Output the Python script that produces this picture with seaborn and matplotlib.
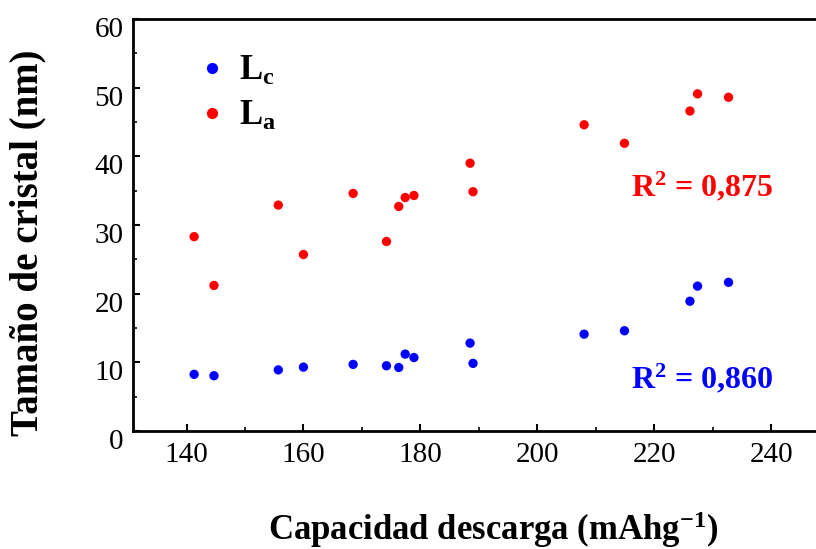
import matplotlib
matplotlib.use("Agg")
import matplotlib.pyplot as plt
from matplotlib.transforms import ScaledTranslation
from matplotlib.ticker import MultipleLocator
import seaborn as sns
import pandas as pd

# ---- data ----
capacity = [141.3, 144.7, 155.7, 160.0, 168.5, 174.2, 176.3, 177.4, 178.9,
            188.5, 189.0, 208.0, 214.9, 226.1, 227.4, 232.7]
lc_values = [8.25, 8.05, 8.9, 9.3, 9.7, 9.5, 9.25, 11.2, 10.7,
             12.8, 9.85, 14.1, 14.6, 18.9, 21.1, 21.65]
la_values = [28.3, 21.2, 32.9, 25.7, 34.6, 27.6, 32.7, 34.0, 34.3,
             39.0, 34.85, 44.6, 41.9, 46.6, 49.1, 48.6]
series_names = ["L$_{c}$", "L$_{a}$"]
r2_labels = ["R$^{2}$ = 0,860", "R$^{2}$ = 0,875"]
x_ticks = [140, 160, 180, 200, 220, 240]
y_ticks = [0, 10, 20, 30, 40, 50, 60]

df = pd.DataFrame({
    "cap": capacity * 2,
    "size": lc_values + la_values,
    "serie": [series_names[0]] * len(capacity) + [series_names[1]] * len(capacity),
})

sns.set_theme(style="white")
plt.rcParams["font.family"] = ["Liberation Serif", "DejaVu Serif"]
plt.rcParams["mathtext.default"] = "regular"
plt.rcParams["text.color"] = "black"
plt.rcParams["axes.labelcolor"] = "black"
plt.rcParams["xtick.color"] = "black"
plt.rcParams["ytick.color"] = "black"

fig = plt.figure(figsize=(8.16, 5.49), dpi=100)
ax = fig.add_axes([133 / 816, 1 - 431 / 549, 1 - 133 / 816, (431 - 19) / 549])

sns.scatterplot(data=df, x="cap", y="size", hue="serie",
                palette={series_names[0]: "#0000ff", series_names[1]: "#ff0000"},
                s=45, edgecolor="none", ax=ax, legend=True, clip_on=False)

ax.set_xlim(130.85, 247.66)
ax.set_ylim(0, 60)
ax.set_xticks(x_ticks)
ax.set_yticks(y_ticks)
ax.xaxis.set_minor_locator(MultipleLocator(10))
ax.yaxis.set_minor_locator(MultipleLocator(5))
ax.set_xlabel("")
ax.set_ylabel("")

for side in ["left", "bottom", "top"]:
    ax.spines[side].set_visible(True)
    ax.spines[side].set_color("black")
    ax.spines[side].set_linewidth(2.0)
ax.spines["right"].set_visible(False)

ax.tick_params(axis="both", which="major", direction="in", length=5, width=1.5,
               color="black", labelsize=21, labelcolor="black")
ax.tick_params(axis="x", which="major", pad=8, top=False, bottom=True)
ax.tick_params(axis="y", which="major", pad=7, left=True, right=False)
ax.tick_params(axis="both", which="minor", direction="in", length=3, width=1.2,
               color="black")
ax.tick_params(axis="x", which="minor", bottom=True, top=False)
ax.tick_params(axis="y", which="minor", left=True, right=False)

off = ScaledTranslation(0, -8 / 100, fig.dpi_scale_trans)
for lab in ax.get_yticklabels():
    lab.set_transform(lab.get_transform() + off)

leg = ax.legend(loc="upper left", bbox_to_anchor=(0.044, 0.988), frameon=False,
                prop={"size": 25, "weight": "bold"}, handletextpad=0.3,
                handlelength=1.0, labelspacing=0.33, markerscale=1.2)
for t in leg.get_texts():
    t.set_color("black")

fig.text(630.7 / 816, 1 - 196.7 / 549, r2_labels[1], color="#ff0000",
         fontsize=23, fontweight="bold", ha="left", va="baseline")
fig.text(630.7 / 816, 1 - 388 / 549, r2_labels[0], color="#0000ff",
         fontsize=23, fontweight="bold", ha="left", va="baseline")

fig.text(493 / 816, 1 - 540 / 549, "Capacidad descarga (mAhg$^{-1}$)",
         fontsize=25, fontweight="bold", ha="center", va="baseline",
         color="black")
fig.text(28 / 816, 1 - 243 / 549, "Tamaño de cristal (nm)", rotation=90,
         fontsize=28, fontweight="bold", ha="center", va="center",
         color="black")

fig.savefig("out.png", dpi=100)
